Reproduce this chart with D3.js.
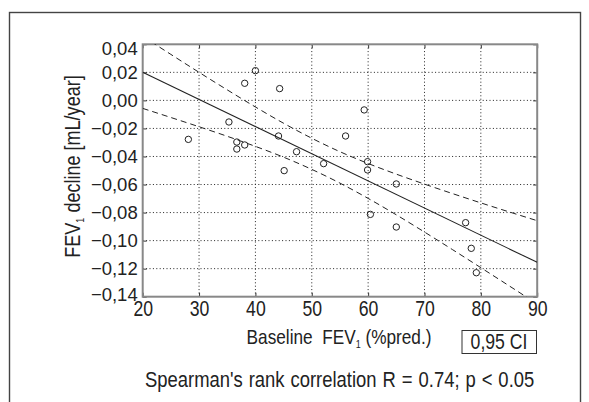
<!DOCTYPE html>
<meta charset="utf-8">
<style>
body { margin: 0; background: #fff; }
text { font-family: "Liberation Sans", Arial, sans-serif; fill: #222; }
.tick text { font-family: "Liberation Sans", Arial, sans-serif; }
.x-ticks .tick text { font-size: 21.5px; }
.y-ticks .tick text { font-size: 18.5px; }
.grid line { stroke: #222; stroke-dasharray: 1,2.4; stroke-width: 1; }
</style>
<svg width="589" height="402"></svg>
<script src="https://d3js.org/d3.v7.min.js"></script>
<script>

// values
var baseline = [28.1, 35.3, 36.7, 36.7, 38.1, 38.1, 40.0, 44.3, 44.1, 45.1, 47.3,
                52.1, 56.0, 59.3, 59.9, 59.9, 60.4, 65.0, 65.0, 77.3, 78.3, 79.2];
var decline  = [-0.0278, -0.0154, -0.0297, -0.0347, -0.0318, 0.0122, 0.0212, 0.0084, -0.0254, -0.0501, -0.0366,
                -0.0451, -0.0254, -0.0068, -0.0437, -0.0496, -0.0813, -0.0596, -0.0903, -0.0872, -0.1055, -0.1229];

var fitX = [20, 90];
var fitY = [0.0200, -0.1155];

var ciX     = [20, 25, 30, 35, 40, 45, 50, 55, 60, 65, 70, 75, 80, 85, 90];
var ciUpper = [0.0457, 0.0328, 0.0200, 0.0075, -0.0047, -0.0163, -0.0270, -0.0366, -0.0450, -0.0526, -0.0597, -0.0665, -0.0731, -0.0795, -0.0858];
var ciLower = [-0.0057, -0.0122, -0.0188, -0.0256, -0.0328, -0.0405, -0.0492, -0.0590, -0.0699, -0.0816, -0.0939, -0.1065, -0.1193, -0.1322, -0.1452];

var xTicks = [20, 30, 40, 50, 60, 70, 80, 90];
var yTicks = [0.04, 0.02, 0.00, -0.02, -0.04, -0.06, -0.08, -0.10, -0.12, -0.14];

var squeeze = 0.82; // the printed figure uses a condensed face

var svg = d3.select("svg");

// outer frame (open at the bottom, runs off the page)
svg.append("rect")
    .attr("x", 9.5).attr("y", 12.5)
    .attr("width", 571).attr("height", 420)
    .attr("fill", "none").attr("stroke", "#444").attr("stroke-width", 1.4);

var plotLeft = 142.7, plotTop = 44.3, width = 394.5, height = 252.4;
var g = svg.append("g").attr("transform", "translate(" + plotLeft + "," + plotTop + ")");

var x = d3.scaleLinear().domain([20, 90]).range([0, width]);
var y = d3.scaleLinear().domain([-0.14, 0.04]).range([height, 0]);

var fmt = function(d) { return d3.format(".2f")(d).replace(".", ","); };

g.append("clipPath").attr("id", "clip")
  .append("rect").attr("width", width).attr("height", height);

// dotted grid
var grid = g.append("g").attr("class", "grid");
grid.selectAll(".gx").data(xTicks.slice(1, -1)).enter().append("line")
    .attr("x1", function(d) { return x(d); }).attr("x2", function(d) { return x(d); })
    .attr("y1", 0).attr("y2", height);
grid.selectAll(".gy").data(yTicks.slice(1, -1)).enter().append("line")
    .attr("y1", function(d) { return y(d); }).attr("y2", function(d) { return y(d); })
    .attr("x1", 0).attr("x2", width);

// axes
var xa = g.append("g").attr("class", "x-ticks")
    .attr("transform", "translate(0," + height + ")")
    .call(d3.axisBottom(x).tickValues(xTicks).tickSize(-4).tickPadding(4).tickFormat(d3.format("d")));
var ya = g.append("g").attr("class", "y-ticks")
    .call(d3.axisLeft(y).tickValues(yTicks).tickSize(-4).tickPadding(5).tickFormat(fmt));
g.append("g").attr("transform", "translate(" + width + ",0)")
    .call(d3.axisRight(y).tickValues(yTicks).tickSize(-4).tickFormat(""));
g.append("g")
    .call(d3.axisTop(x).tickValues(xTicks).tickSize(-4).tickFormat(""));

g.selectAll(".domain").remove();
g.selectAll(".tick line").attr("stroke", "#333");
g.selectAll(".tick text").attr("fill", "#222");
ya.selectAll(".tick text")
    .attr("dy", function(d, i) {
      return i === 0 ? "0.55em" : (i === yTicks.length - 1 ? "0.2em" : "0.32em");
    });
xa.selectAll(".tick text").attr("transform", "scale(" + squeeze + ",1)");

// plot frame
g.append("rect").attr("width", width).attr("height", height)
    .attr("fill", "none").attr("stroke", "#888").attr("stroke-width", 2);

// fit and confidence band
var plot = g.append("g").attr("clip-path", "url(#clip)");
var line = d3.line().x(function(d) { return x(d[0]); }).y(function(d) { return y(d[1]); });
var curve = d3.line().curve(d3.curveMonotoneX)
    .x(function(d) { return x(d[0]); }).y(function(d) { return y(d[1]); });

plot.append("path").datum(d3.zip(fitX, fitY)).attr("d", line)
    .attr("fill", "none").attr("stroke", "#222").attr("stroke-width", 1.1);
plot.append("path").datum(d3.zip(ciX, ciUpper)).attr("d", curve)
    .attr("fill", "none").attr("stroke", "#222").attr("stroke-width", 1).attr("stroke-dasharray", "6,4");
plot.append("path").datum(d3.zip(ciX, ciLower)).attr("d", curve)
    .attr("fill", "none").attr("stroke", "#222").attr("stroke-width", 1).attr("stroke-dasharray", "6,4");

// points
g.selectAll(".pt").data(d3.zip(baseline, decline)).enter().append("circle")
    .attr("cx", function(d) { return x(d[0]); })
    .attr("cy", function(d) { return y(d[1]); })
    .attr("r", 3.2)
    .attr("fill", "none").attr("stroke", "#222").attr("stroke-width", 1);

// titles
function place(tx, ty, rot) {
  return "translate(" + tx + "," + ty + ")" + (rot ? " rotate(" + rot + ")" : "") + " scale(" + squeeze + ",1)";
}

var yt = svg.append("text")
    .attr("transform", place(80, 166.5, -90))
    .attr("text-anchor", "middle").attr("font-size", 22);
yt.append("tspan").text("FEV");
yt.append("tspan").attr("font-size", 11).attr("dy", 4).text("1");
yt.append("tspan").attr("dy", -4).text(" decline [mL/year]");

var xt = svg.append("text")
    .attr("transform", place(339, 343.5))
    .attr("text-anchor", "middle").attr("font-size", 21);
xt.append("tspan").text("Baseline\u00a0 FEV");
xt.append("tspan").attr("font-size", 11).attr("dy", 4).text("1");
xt.append("tspan").attr("dy", -4).text(" (%pred.)");

svg.append("rect")
    .attr("x", 462).attr("y", 330.5).attr("width", 74.5).attr("height", 23)
    .attr("fill", "none").attr("stroke", "#333").attr("stroke-width", 1);
svg.append("text")
    .attr("transform", place(499, 349))
    .attr("text-anchor", "middle").attr("font-size", 21.5)
    .text("0,95 CI");

svg.append("text")
    .attr("transform", place(339.6, 387))
    .attr("text-anchor", "middle").attr("font-size", 22.5)
    .attr("word-spacing", 1)
    .text("Spearman's rank correlation R = 0.74; p < 0.05");

</script>
